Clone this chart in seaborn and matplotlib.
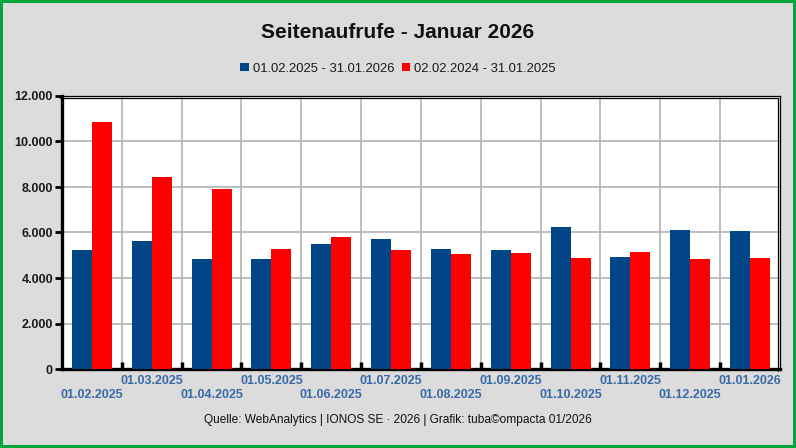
import matplotlib
matplotlib.use("Agg")
import matplotlib.pyplot as plt
import matplotlib.transforms as mtransforms
from matplotlib.patches import Rectangle
from matplotlib.ticker import FuncFormatter, FixedLocator
import seaborn as sns
import pandas as pd

months = ["01.02.2025", "01.03.2025", "01.04.2025", "01.05.2025", "01.06.2025", "01.07.2025",
          "01.08.2025", "01.09.2025", "01.10.2025", "01.11.2025", "01.12.2025", "01.01.2026"]
series_names = ["01.02.2025 - 31.01.2026", "02.02.2024 - 31.01.2025"]
current = [5230, 5630, 4830, 4830, 5500, 5710, 5270, 5230, 6240, 4920, 6110, 6070]
previous = [10860, 8440, 7910, 5270, 5820, 5230, 5050, 5100, 4880, 5140, 4830, 4880]
colors = ["#004687", "#ff0000"]
title = "Seitenaufrufe - Januar 2026"
footer = "Quelle: WebAnalytics | IONOS SE \u00b7 2026 | Grafik: tuba\u00a9ompacta 01/2026"

df = pd.DataFrame({
    "month": months * 2,
    "series": [series_names[0]] * len(months) + [series_names[1]] * len(months),
    "value": current + previous,
})

sns.set_theme(style="white")
plt.rcParams["font.family"] = ["Liberation Sans", "DejaVu Sans"]

fig = plt.figure(figsize=(7.96, 4.48), dpi=100, facecolor="#dcdcdc")
ax = fig.add_axes([62 / 796, 1 - 369 / 448, (780 - 62) / 796, (369 - 96) / 448])
ax.set_facecolor("white")

sns.barplot(data=df, x="month", y="value", hue="series", palette=colors,
            width=0.667, gap=0, saturation=1, ax=ax, zorder=3, linewidth=0)

ax.set_xlim(-0.5, len(months) - 0.5)
ax.set_ylim(0, 12000)
ax.set_yticks(range(0, 12001, 2000))
ax.yaxis.set_major_formatter(FuncFormatter(lambda v, p: f"{int(v):,}".replace(",", ".")))
ax.set_xlabel("")
ax.set_ylabel("")

# grid
ax.grid(axis="y", color="#b3b3b3", linewidth=1.2, zorder=0)
ax.xaxis.set_minor_locator(FixedLocator([i + 0.5 for i in range(len(months) - 1)]))
ax.grid(axis="x", which="minor", color="#b3b3b3", linewidth=1.2, zorder=0)
ax.set_axisbelow(True)

# x tick labels staggered
labels = [("\n" + m) if i % 2 == 0 else m for i, m in enumerate(months)]
ax.set_xticks(range(len(months)))
ax.set_xticklabels(labels, fontsize=9, fontweight="bold", color="#3a6aa6", linespacing=1.25)
ax.tick_params(axis="x", which="major", bottom=True, length=0, pad=4)
ax.tick_params(axis="x", which="minor", bottom=True, direction="in", length=5, width=2.5,
               color="black")
ax.tick_params(axis="y", which="major", left=True, direction="out", length=5, width=2,
               color="black", labelsize=9, pad=1.5)
for lab in ax.get_yticklabels():
    lab.set_fontweight("bold")
    lab.set_color("#1a1a1a")

for side in ["left", "bottom"]:
    ax.spines[side].set_color("black")
    ax.spines[side].set_linewidth(2.4)
for side in ["top", "right"]:
    ax.spines[side].set_color("black")
    ax.spines[side].set_linewidth(0.9)
    ax.spines[side].set_visible(True)
# inner double line for top/right
off = mtransforms.offset_copy(ax.transAxes, fig=fig, x=-2, y=-2, units="dots")
ax.plot([0, 1, 1], [1, 1, 0], transform=off, color="black", linewidth=0.9, clip_on=False, zorder=5)

# legend
handles, lbls = ax.get_legend_handles_labels()
ax.get_legend().remove()
fig.legend(handles, lbls, loc="center", bbox_to_anchor=(0.5, 1 - 68.5 / 448), ncol=2,
           frameon=False, fontsize=9.4, handlelength=0.65, handleheight=0.65,
           handletextpad=0.3, columnspacing=0.6, labelcolor="#1a1a1a")

fig.text(0.5, 1 - 33 / 448, title, ha="center", va="center", fontsize=15,
         fontweight="bold", color="#111111")
fig.text(0.5, 1 - 420 / 448, footer, ha="center", va="center", fontsize=8.6, color="#111111")

fig.patches.append(Rectangle((0, 0), 1, 1, transform=fig.transFigure, fill=False,
                             edgecolor="#00a63c", linewidth=4.3, zorder=10))

fig.savefig("out.png", dpi=100, facecolor=fig.get_facecolor())
